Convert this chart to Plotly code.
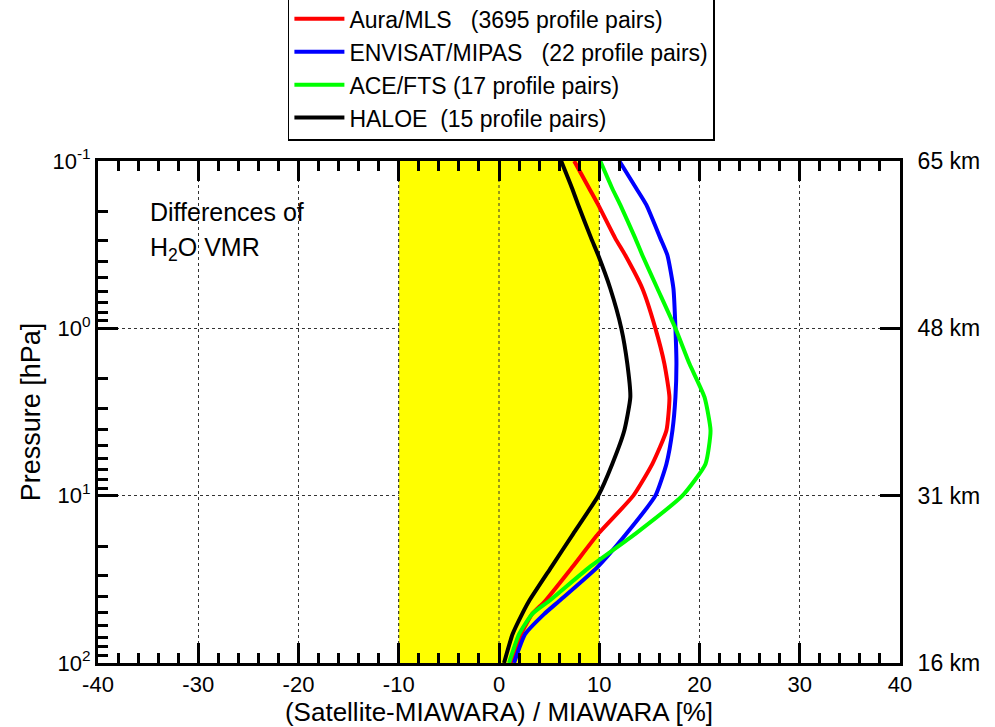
import plotly.graph_objects as go

# Pressure levels [hPa]
pressure = [0.1, 0.146, 0.183, 0.29, 0.366, 0.578, 1.0, 1.63, 2.58, 4.08, 6.46, 10.0,
            16.9, 26.8, 42.6, 51.0, 67.3, 100.0]

# Relative differences (Satellite-MIAWARA)/MIAWARA [%]
aura_mls = [7.5, 9.0, 9.9, 11.6, 12.6, 14.3, 15.6, 16.5, 17.0, 16.7, 15.3, 13.4,
            9.9, 7.3, 4.6, 3.3, 2.2, 1.2]
envisat_mipas = [12.0, 13.7, 14.7, 16.1, 16.8, 17.4, 17.6, 17.7, 17.6, 17.3, 16.7, 15.6,
                 12.7, 9.8, 6.0, 4.5, 2.6, 1.5]
ace_fts = [10.1, 11.3, 12.1, 13.6, 14.3, 15.8, 17.6, 19.0, 20.5, 21.1, 20.6, 18.3,
           13.6, 9.0, 5.0, 3.3, 2.0, 1.0]
haloe = [6.2, 7.3, 7.9, 9.2, 9.9, 11.1, 12.2, 12.8, 13.1, 12.5, 11.3, 9.9,
         7.4, 5.2, 3.0, 2.3, 1.35, 0.5]

series_names = [
    "Aura/MLS\u00a0\u00a0\u00a0(3695 profile pairs)",
    "ENVISAT/MIPAS\u00a0\u00a0\u00a0(22 profile pairs)",
    "ACE/FTS (17 profile pairs)",
    "HALOE\u00a0\u00a0(15 profile pairs)",
]
series_values = [aura_mls, envisat_mipas, ace_fts, haloe]
series_colors = ["#ff0000", "#0000ff", "#00ff00", "#000000"]

band_x = [-10, 10]
p_range = [0.1, 100]
x_ticks = [-40, -30, -20, -10, 0, 10, 20, 30, 40]
x_ticktext = ["-40", "-30", "-20", "-10", "0", "10", "20", "30", "40"]
p_ticks = [0.1, 1, 10, 100]
p_ticktext = ["10<sup>-1</sup>", "10<sup>0</sup>", "10<sup>1</sup>", "10<sup>2</sup>"]
alt_ticktext = ["65 km", "48 km", "31 km", "16 km"]
p_minor = [m * d for d in [0.1, 1, 10] for m in range(2, 10)]

FONT = "Liberation Sans, Arial, Helvetica, sans-serif"

fig = go.Figure()

# Yellow +/-10 % band
fig.add_trace(go.Scatter(
    x=[band_x[0], band_x[1], band_x[1], band_x[0], band_x[0]],
    y=[p_range[0], p_range[0], p_range[1], p_range[1], p_range[0]],
    fill="toself", fillcolor="#ffff00", mode="lines", line=dict(width=0),
    showlegend=False, hoverinfo="skip"))

# dotted grid lines visible over the band
for gx in [band_x[0], 0, band_x[1]]:
    fig.add_trace(go.Scatter(
        x=[gx, gx], y=p_range, mode="lines",
        line=dict(color="#333333", width=1, dash="dot"),
        showlegend=False, hoverinfo="skip"))

for name, vals, col in zip(series_names, series_values, series_colors):
    fig.add_trace(go.Scatter(
        x=vals, y=pressure, mode="lines", name=name,
        line=dict(color=col, width=4, shape="spline", smoothing=0.5)))

# dummy trace for right axis
fig.add_trace(go.Scatter(x=[0], y=[1], yaxis="y2", mode="markers",
                         marker=dict(opacity=0), showlegend=False, hoverinfo="skip"))

fig.update_layout(
    width=995, height=727,
    margin=dict(l=98, r=95, t=161, b=64, autoexpand=False),
    paper_bgcolor="white", plot_bgcolor="white",
    font=dict(family=FONT, size=22, color="black"),
    showlegend=True,
    legend=dict(
        x=0.503, xanchor="center", y=1.04, yanchor="bottom",
        bordercolor="black", borderwidth=1.5, bgcolor="white",
        font=dict(family=FONT, size=23, color="black"),
        tracegroupgap=0, itemwidth=50,
    ),
    xaxis=dict(
        range=[-40, 40], tickvals=x_ticks, ticktext=x_ticktext,
        ticks="inside", ticklen=20, tickwidth=2.5,
        tickcolor="black", showline=True, linewidth=3, linecolor="black",
        mirror="ticks", showgrid=True, gridcolor="#333333", griddash="dot", gridwidth=1,
        zeroline=False,
        minor=dict(dtick=2, ticks="inside", ticklen=10, tickwidth=2.5, tickcolor="black",
                   showgrid=False),
        title=dict(text="(Satellite-MIAWARA) / MIAWARA [%]", standoff=4,
                   font=dict(size=26)),
        tickfont=dict(size=22),
    ),
    yaxis=dict(
        type="log", range=[2, -1], tickvals=p_ticks, ticktext=p_ticktext,
        ticks="inside", ticklen=20, tickwidth=2.5, tickcolor="black",
        showline=True, linewidth=3, linecolor="black", mirror=False,
        showgrid=True, gridcolor="#333333", griddash="dot", gridwidth=1,
        zeroline=False,
        minor=dict(tickvals=p_minor, ticks="inside", ticklen=10, tickwidth=2.5,
                   tickcolor="black", showgrid=False),
        title=dict(text="Pressure [hPa]", standoff=4, font=dict(size=27)),
        tickfont=dict(size=22),
    ),
    yaxis2=dict(
        type="log", range=[2, -1], overlaying="y", side="right",
        tickvals=p_ticks, ticktext=alt_ticktext,
        ticks="inside", ticklen=20, tickwidth=2.5, tickcolor="black",
        showline=True, linewidth=3, linecolor="black", showgrid=False,
        zeroline=False, tickfont=dict(size=23), ticklabelstandoff=10,
    ),
    annotations=[
        dict(text="Differences of", x=0.0623, y=0.898, xref="paper", yref="paper",
             xanchor="left", yanchor="middle", showarrow=False,
             font=dict(family=FONT, size=25, color="black")),
        dict(text="H<sub>2</sub>O VMR", x=0.0623, y=0.825, xref="paper", yref="paper",
             xanchor="left", yanchor="middle", showarrow=False,
             font=dict(family=FONT, size=25, color="black")),
    ],
)

fig.write_html("out.html")
